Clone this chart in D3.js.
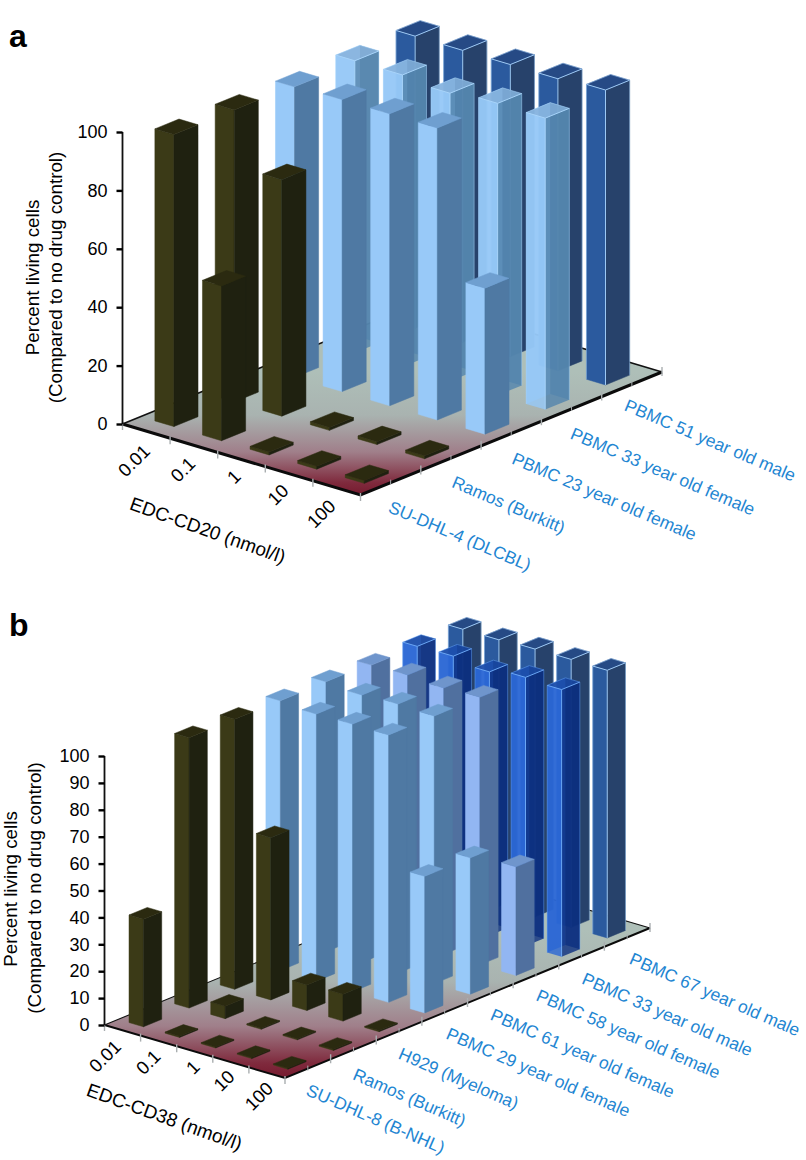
<!DOCTYPE html>
<html><head><meta charset="utf-8">
<script src="https://cdnjs.cloudflare.com/ajax/libs/d3/7.8.5/d3.min.js"></script>
<style>html,body{margin:0;padding:0;background:#fff}svg{display:block}text{font-family:"Liberation Sans",Arial,sans-serif}</style>
</head><body><svg id="c" width="806" height="1160"></svg>
<script>
const dosesA = ["0.01","0.1","1","10","100"];
const seriesA = ["SU-DHL-4 (DLCBL)","Ramos (Burkitt)","PBMC 23 year old female","PBMC 33 year old female","PBMC 51 year old male"];
const valuesA = [
  [100,53,1,1,1],
  [100,81,1,1,1],
  [99.5,100,100,100,50],
  [100,100,98.6,100,99.8],
  [100,100,100,100,101]
];
const dosesB = ["0.01","0.1","1","10","100"];
const seriesB = ["SU-DHL-8 (B-NHL)","Ramos (Burkitt)","H929 (Myeloma)","PBMC 29 year old female","PBMC 61 year old female","PBMC 58 year old female","PBMC 33 year old male","PBMC 67 year old male"];
const valuesB = [
  [40,.4,.4,.4,.4],
  [100.5,4.6,.4,.4,.4],
  [100.4,60.3,9.5,10,.4],
  [100.3,99.3,99.5,99.4,50.8],
  [100.4,99.4,100,99.5,50.7],
  [99.6,99.9,99,99.5,40.4],
  [99.6,99.9,98,99.9,99.3],
  [99,99,99.5,99.6,99.5]
];
const ticksA = [0,20,40,60,80,100];
const ticksB = [0,10,20,30,40,50,60,70,80,90,100];

const olive={left:"#3b3a17",right:"#1f2110",top:"#2b2a10"};
const sky={left:"#98c9f8",right:"#4f79a3",top:"#6f9fd0"};
const peri={left:"#92b6f2",right:"#50709f",top:"#6f95cc"};
const skyT={left:"#96c8f6",right:"#5485ad",top:"#84b0da",alpha:.82,edge:"#a8d4fa"};
const blueT={left:"#2a66d4",right:"#0d2f80",top:"#1a4aa4",alpha:.8,edge:"#6aa6f4"};
const navy={left:"#2b5a9e",right:"#27426b",top:"#264a85",edge:"#9cc8f4"};

const panels=[
 {doses:dosesA,series:seriesA,values:valuesA,ticks:ticksA,styles:[olive,olive,sky,skyT,navy],
  left:[122.5,424],front:[360.5,495],right:[662,372],top:132,edgeW:3,backW:1.6,
  letter:"a",letterPos:[9,47],
  yTitleX:[38.5,61.5],yTitleY:[277.5,277.5],
  doseLab:[[135,461.7],[184,470.7],[235,478],[279,495.7],[322.3,515]],
  doseTitle:"EDC-CD20 (nmol/l)",doseTitlePos:[207.3,531.7],doseTitleAng:19.5,
  serOff:[[-3.3,29],[-.2,28.6],[-.5,29.8],[-2.2,29.4],[-8.5,25.7]],serAng:23,
  grad:[372,495]},
 {doses:dosesB,series:seriesB,values:valuesB,ticks:ticksB,styles:[olive,olive,olive,sky,sky,peri,blueT,navy],
  left:[104.5,1025],front:[285,1078],right:[650,928],top:756,edgeW:1.9,backW:1.1,
  letter:"b",letterPos:[9,636],
  yTitleX:[16.5,40.5],yTitleY:[889,888],
  doseLab:[[106,1057.3],[149.3,1063.3],[194,1068.3],[225,1081.7],[260,1097.3]],
  doseTitle:"EDC-CD38 (nmol/l)",doseTitlePos:[164,1118.3],doseTitleAng:19.8,
  serOff:[[-2.8,26],[-1.6,29],[-1.7,27.2],[.4,25.9],[-1,25.7],[-.9,25.1],[-.8,27.2],[1.1,25.9]],serAng:23.5,
  grad:[930,1078]}
];

const svg=d3.select("#c");
const defs=svg.append("defs");
const line=d3.line();
const poly=p=>line(p)+"Z";

panels.forEach((P,pi)=>{
  const g=svg.append("g");
  const nS=P.series.length;
  const doseVec=[P.front[0]-P.left[0],P.front[1]-P.left[1]];
  const depthVec=[P.right[0]-P.front[0],P.right[1]-P.front[1]];
  const uS=d3.scaleBand().domain(P.doses).range([0,1]).paddingInner(.6).paddingOuter(.3);
  const vS=d3.scaleBand().domain(P.series).range([0,1]).paddingInner(.6).paddingOuter(.3);
  const yS=d3.scaleLinear().domain([0,100]).range([P.left[1],P.top]);
  const hS=v=>P.left[1]-yS(v);
  const proj=(u,v,h=0)=>[P.left[0]+u*doseVec[0]+v*depthVec[0],P.left[1]+u*doseVec[1]+v*depthVec[1]-h];

  // floor
  const gid="floor"+pi;
  const gr=defs.append("linearGradient").attr("id",gid).attr("gradientUnits","userSpaceOnUse")
    .attr("x1",0).attr("x2",0).attr("y1",P.grad[0]).attr("y2",P.grad[1]);
  [[0,"#aebfb8"],[.35,"#a9b3b0"],[.65,"#a07f8a"],[.9,"#7f2a3d"],[1,"#761a2e"]].forEach(s=>gr.append("stop").attr("offset",s[0]).attr("stop-color",s[1]));
  const back=proj(0,1);
  g.append("path").attr("d",poly([P.left,P.front,P.right,back])).attr("fill",`url(#${gid})`);
  g.append("path").attr("d",line([P.left,back,P.right])).attr("fill","none").attr("stroke","#111").attr("stroke-width",P.backW);

  // bars, painted back to front
  const cells=[];
  d3.range(nS-1,-1,-1).forEach(i=>P.doses.forEach((d,j)=>cells.push({i,j,d,s:P.series[i],val:P.values[i][j],st:P.styles[i]})));
  const bars=g.selectAll("g.bar").data(cells).join("g").attr("class","bar");
  bars.each(function(c){
    const b=d3.select(this),st=c.st,u0=uS(c.d),u1=u0+uS.bandwidth(),v0=vS(c.s),v1=v0+vS.bandwidth(),h=hS(c.val);
    const A=proj(u0,v0),B=proj(u1,v0),C=proj(u1,v1),D=proj(u0,v1);
    const At=proj(u0,v0,h),Bt=proj(u1,v0,h),Ct=proj(u1,v1,h),Dt=proj(u0,v1,h);
    const a=st.alpha||1;
    const face=(pts,fill,stroke)=>b.append("path").attr("d",poly(pts)).attr("fill",fill).attr("fill-opacity",a)
       .attr("stroke",stroke||"none").attr("stroke-width",stroke?.5:0);
    if(st.alpha){
      face([A,D,Dt,At],st.left);
      face([D,C,Ct,Dt],st.right);
    }
    face([A,B,Bt,At],st.left,st.alpha?null:st.left);
    face([B,C,Ct,Bt],st.right,st.alpha?null:st.right);
    face([At,Bt,Ct,Dt],st.top,st.alpha?null:st.top);
    if(st.edge){
      b.append("path").attr("d",line([At,Bt,Ct])+line([Bt,B])).attr("fill","none").attr("stroke",st.edge).attr("stroke-width",1);
      b.append("path").attr("d",line([At,Dt,Ct])+line([At,A])+line([Ct,C])).attr("fill","none").attr("stroke",st.edge).attr("stroke-width",.6).attr("stroke-opacity",.8);
    }
  });

  // floor front edges and ticks
  g.append("path").attr("d",line([P.left,P.front,P.right])).attr("fill","none").attr("stroke","#0b0b0b").attr("stroke-width",P.edgeW);
  const tick=(p,up,down,w)=>g.append("line").attr("x1",p[0]).attr("x2",p[0]).attr("y1",p[1]-up).attr("y2",p[1]+down).attr("stroke","#a9aeb0").attr("stroke-width",w);
  d3.range(0,P.doses.length+1).forEach(k=>tick(proj(k/P.doses.length,0),2,6,1.4));
  d3.range(1,2*nS+1).forEach(k=>{const maj=k%2===0;tick(proj(1,k/(2*nS)),maj?5:3,maj?4:2,maj?1.4:1)});

  // value axis
  const ax=g.append("g").attr("transform",`translate(${P.left[0]},0)`)
    .call(d3.axisLeft(yS).tickValues(P.ticks).tickSize(6).tickPadding(9).tickFormat(d3.format("d")));
  ax.select(".domain").attr("stroke","#111").attr("stroke-width",1.8).attr("d",`M0,${yS(0)}V${yS(100)}`);
  ax.selectAll(".tick line").attr("stroke","#000").attr("stroke-width",2.4);
  ax.selectAll(".tick text").attr("fill","#000").style("font-size","18px").style("font-family",'"Liberation Sans"');

  // value axis title
  ["Percent living cells","(Compared to no drug control)"].forEach((t,k)=>{
    g.append("text").text(t).attr("transform",`translate(${P.yTitleX[k]},${P.yTitleY[k]}) rotate(-90)`)
      .attr("text-anchor","middle").attr("font-size",18.8).attr("fill","#000");
  });

  // dose labels
  g.selectAll("text.dose").data(P.doses).join("text").attr("class","dose").text(d=>d)
    .attr("transform",(d,i)=>`translate(${P.doseLab[i][0]},${P.doseLab[i][1]}) rotate(-45)`)
    .attr("text-anchor","middle").attr("dominant-baseline","middle").attr("font-size",18.5).attr("fill","#000");
  g.append("text").text(P.doseTitle).attr("transform",`translate(${P.doseTitlePos[0]},${P.doseTitlePos[1]}) rotate(${P.doseTitleAng})`)
    .attr("text-anchor","middle").attr("dominant-baseline","middle").attr("font-size",19).attr("fill","#000");

  // series labels
  g.selectAll("text.ser").data(P.series).join("text").attr("class","ser").text(d=>d)
    .attr("transform",(d,i)=>{const p=proj(1,vS(d)+vS.bandwidth()/2);return `translate(${p[0]+P.serOff[i][0]},${p[1]+P.serOff[i][1]}) rotate(${P.serAng})`})
    .attr("font-size",17.4).attr("fill","#1f86d2");

  g.append("text").text(P.letter).attr("x",P.letterPos[0]).attr("y",P.letterPos[1]).attr("font-size",32).attr("font-weight","bold").attr("fill","#000");
});
</script></body></html>
